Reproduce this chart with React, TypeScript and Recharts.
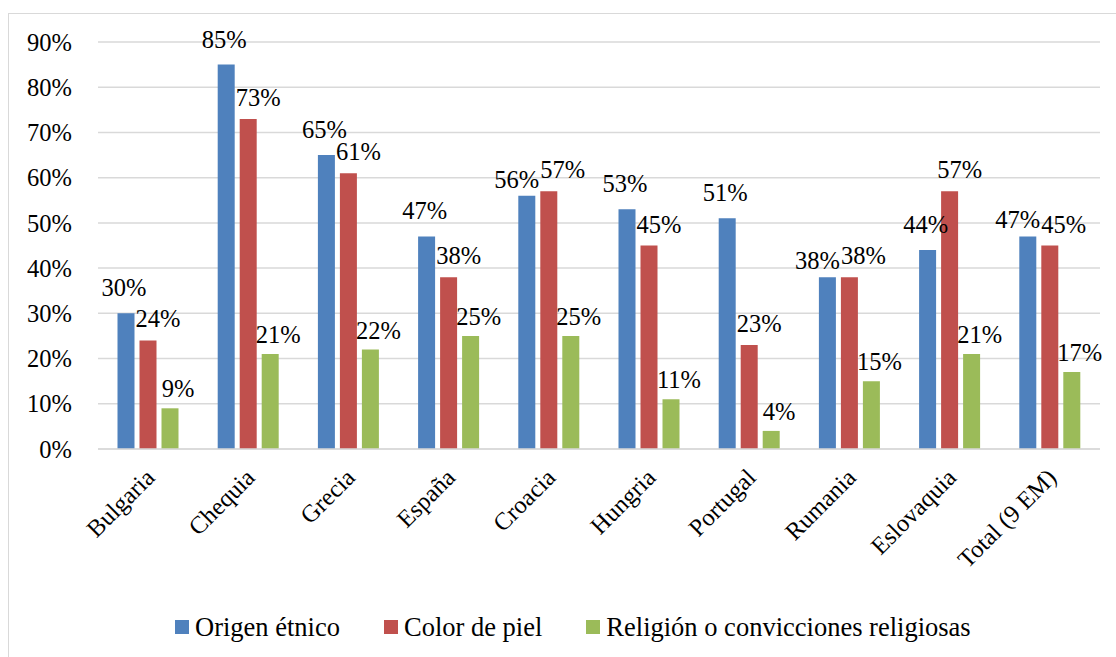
import { Bar, BarChart, CartesianGrid, LabelList, Legend, XAxis, YAxis } from 'recharts';

const categories = [
  'Bulgaria',
  'Chequia',
  'Grecia',
  'España',
  'Croacia',
  'Hungria',
  'Portugal',
  'Rumania',
  'Eslovaquia',
  'Total (9 EM)',
];
const origenEtnico = [30, 85, 65, 47, 56, 53, 51, 38, 44, 47];
const colorPiel = [24, 73, 61, 38, 57, 45, 23, 38, 57, 45];
const religion = [9, 21, 22, 25, 25, 11, 4, 15, 21, 17];
const yTicks = [0, 10, 20, 30, 40, 50, 60, 70, 80, 90];

const seriesNames = ['Origen étnico', 'Color de piel', 'Religión o convicciones religiosas'];
const seriesColors = ['#4F81BD', '#C0504D', '#9BBB59'];

const FONT = '"Liberation Serif", "Times New Roman", serif';

const data = categories.map((name, i) => ({
  name,
  origen: origenEtnico[i],
  piel: colorPiel[i],
  religion: religion[i],
}));

// labels of blue and red bars collide when the two values are close;
// Excel pushes them apart sideways, so do the same
function crowded(i: number) {
  return Math.abs(origenEtnico[i] - colorPiel[i]) < 3.8;
}

function makeLabel(series: 'origen' | 'piel' | 'religion') {
  return (props: any) => {
    const { x, y, width, value, index } = props;
    let dx = 8;
    let lift = 11;
    if (series === 'origen') {
      dx = crowded(index) ? -10 : -2;
      lift = crowded(index) ? 8 : 17;
    }
    if (series === 'piel') {
      dx = crowded(index) ? 14 : 10;
      lift = 13;
    }
    return (
      <text
        x={Number(x) + Number(width) / 2 + dx}
        y={Number(y) - lift}
        textAnchor="middle"
        fill="#000"
        fontSize={24.5}
        fontFamily={FONT}
      >
        {value}%
      </text>
    );
  };
}

function AngledTick(props: any) {
  const { x, y, payload } = props;
  const tx = x + 8;
  const ty = y + 30;
  return (
    <text
      x={tx}
      y={ty}
      transform={`rotate(-45, ${tx}, ${ty})`}
      textAnchor="end"
      fill="#000"
      fontSize={24.5}
      fontFamily={FONT}
    >
      {payload.value}
    </text>
  );
}

function LegendContent() {
  return (
    <div
      style={{
        height: 30,
        display: 'flex',
        alignItems: 'center',
        marginLeft: 166,
        fontFamily: FONT,
        fontSize: 26.5,
        color: '#000',
      }}
    >
      {seriesNames.map((n, i) => (
        <div key={n} style={{ display: 'flex', alignItems: 'center', marginRight: 44 }}>
          <span
            style={{
              width: 14,
              height: 14,
              background: seriesColors[i],
              display: 'inline-block',
              marginRight: 6,
            }}
          />
          <span style={{ lineHeight: '30px', whiteSpace: 'nowrap' }}>{n}</span>
        </div>
      ))}
    </div>
  );
}

export default function App() {
  return (
    <>
      <style>{'html,body{overflow:hidden}'}</style>
      <div
        style={{
          position: 'absolute',
          left: 8,
          top: 13,
          width: 1120,
          height: 660,
          border: '1px solid #d9d9d9',
          background: '#fff',
        }}
      >
        <BarChart
          width={1110}
          height={643}
          data={data}
          margin={{ top: 28, right: 19, left: 0, bottom: 15 }}
          barCategoryGap={19.5}
          barGap={5}
        >
          <CartesianGrid vertical={false} stroke="#d9d9d9" strokeWidth={1.5} />
          <XAxis
            dataKey="name"
            height={163}
            interval={0}
            tickSize={0}
            tickMargin={0}
            tickLine={false}
            axisLine={{ stroke: '#d9d9d9', strokeWidth: 1.5 }}
            tick={<AngledTick />}
          />
          <YAxis
            width={89}
            domain={[0, 90]}
            ticks={yTicks}
            tickFormatter={(v) => `${v}%`}
            axisLine={false}
            tickLine={false}
            tickSize={0}
            tickMargin={26}
            tick={{ fill: '#000', fontSize: 24.5, fontFamily: FONT }}
          />
          <Legend verticalAlign="bottom" content={<LegendContent />} wrapperStyle={{ height: 30 }} />
          <Bar dataKey="origen" name={seriesNames[0]} fill={seriesColors[0]} isAnimationActive={false}>
            <LabelList dataKey="origen" content={makeLabel('origen')} />
          </Bar>
          <Bar dataKey="piel" name={seriesNames[1]} fill={seriesColors[1]} isAnimationActive={false}>
            <LabelList dataKey="piel" content={makeLabel('piel')} />
          </Bar>
          <Bar dataKey="religion" name={seriesNames[2]} fill={seriesColors[2]} isAnimationActive={false}>
            <LabelList dataKey="religion" content={makeLabel('religion')} />
          </Bar>
        </BarChart>
      </div>
    </>
  );
}
